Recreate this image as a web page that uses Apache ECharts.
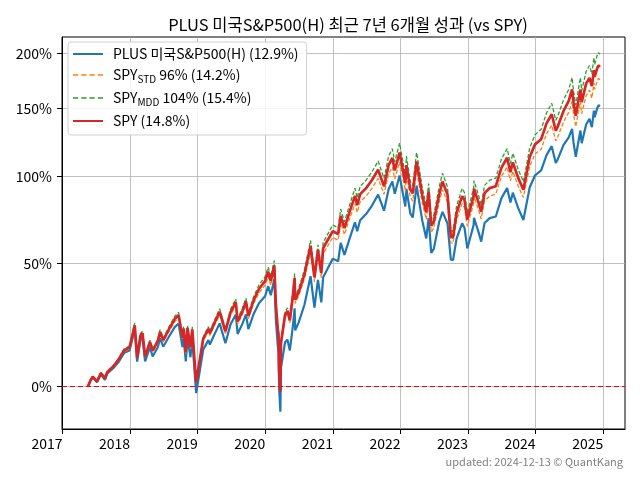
<!DOCTYPE html>
<html><head><meta charset="utf-8">
<script src="https://cdn.jsdelivr.net/npm/echarts@6/dist/echarts.min.js"></script>
<style>html,body{margin:0;padding:0;background:#fff}#c{width:640px;height:480px}</style>
</head><body><div id="c"></div>
<script>
const dates = [
'2017-05-18','2017-05-31','2017-06-13','2017-07-06','2017-07-27','2017-08-18','2017-08-31','2017-09-29','2017-10-31','2017-11-30','2017-12-29',
'2018-01-26','2018-02-08','2018-02-26','2018-03-09','2018-03-23','2018-04-18','2018-05-03','2018-05-31','2018-06-12','2018-06-29','2018-07-31','2018-08-31','2018-09-20','2018-10-11','2018-10-17','2018-10-29','2018-11-07','2018-11-23','2018-12-03','2018-12-24',
'2019-01-31','2019-02-28','2019-03-08','2019-03-29','2019-04-30','2019-05-31','2019-06-28','2019-07-26','2019-08-05','2019-08-30','2019-09-19','2019-10-02','2019-10-31','2019-11-29','2019-12-31',
'2020-01-17','2020-01-31','2020-02-19','2020-02-28','2020-03-09','2020-03-13','2020-03-16','2020-03-23','2020-03-26','2020-04-17','2020-04-30','2020-05-13','2020-05-29','2020-06-08','2020-06-11','2020-06-30','2020-07-31','2020-09-02','2020-09-23','2020-10-12','2020-10-30','2020-11-09','2020-11-30','2020-12-31',
'2021-01-29','2021-02-12','2021-03-04','2021-03-31','2021-04-30','2021-05-12','2021-05-28','2021-06-30','2021-07-30','2021-09-02','2021-10-04','2021-10-29','2021-11-18','2021-12-01','2021-12-27',
'2022-01-03','2022-01-27','2022-02-02','2022-02-23','2022-03-08','2022-03-29','2022-04-29','2022-05-20','2022-06-02','2022-06-16','2022-06-30','2022-07-29','2022-08-16','2022-09-12','2022-09-30','2022-10-12','2022-10-31','2022-11-30','2022-12-13','2022-12-28',
'2023-01-31','2023-02-02','2023-02-28','2023-03-13','2023-03-31','2023-04-28','2023-05-31','2023-06-30','2023-07-31','2023-08-18','2023-08-31','2023-09-29','2023-10-27','2023-11-30','2023-12-29',
'2024-01-31','2024-02-29','2024-03-28','2024-04-19','2024-04-30','2024-05-31','2024-06-28','2024-07-16','2024-07-24','2024-08-05','2024-08-30','2024-09-06','2024-09-30','2024-10-18','2024-10-31','2024-11-11','2024-11-15','2024-11-29','2024-12-06','2024-12-13'
];
// cumulative returns, %
const plus = [
0,1.9,3.2,1.5,4.2,2.3,4.5,6.1,8.5,11.8,12.7,
20.9,8.6,16.8,17.5,8.7,13.8,10.5,14.0,17.3,14.1,18.1,21.8,23.1,14.0,17.5,8.7,17.6,10.2,16.8,-2.1,
13.0,16.6,14.9,18.3,23.2,15.4,22.9,26.8,19.0,22.9,26.9,20.9,27.2,31.8,34.7,
39.3,35.2,42.5,24.2,14.4,12.4,-0.4,-7.9,6.4,15.7,16.8,12.7,21.8,29.5,20.4,23.6,31.0,43.9,29.8,42.2,32.0,43.4,47.0,52.5,
51.2,60.6,54.4,62.6,71.9,66.9,73.1,76.8,81.5,88.3,78.6,91.8,96.6,88.8,100.5,
100.9,81.1,91.9,77.0,74.6,93.9,72.7,63.0,74.3,55.4,57.5,72.2,77.9,71.2,52.0,51.8,62.9,71.3,68.7,57.7,
70.3,74.5,66.0,61.3,71.5,74.3,75.2,86.0,92.4,83.5,89.5,80.1,73.2,92.8,100.7,
103.9,114.5,120.9,108.9,111.6,121.8,127.4,133.8,123.4,113.3,132.6,123.1,137.2,141.7,135.2,148.4,143.0,150.4,152.9,151.7
];
const spyStd = [
0,1.9,3.3,1.7,4.4,2.7,4.8,6.4,9.0,12.3,13.2,
21.4,9.6,17.6,18.5,10.0,15.2,12.1,15.6,18.9,15.9,20.1,24.0,25.4,16.7,20.2,11.6,20.5,13.3,19.9,1.3,
16.4,20.1,18.4,21.8,26.7,19.1,26.6,30.5,22.9,26.7,30.9,25.0,31.6,36.3,39.6,
43.9,39.7,46.7,29.2,20.0,18.0,5.6,-1.5,14.6,25.4,27.1,23.4,33.0,41.1,31.6,34.9,42.7,56.1,41.3,54.0,43.2,55.0,58.4,63.5,
62.1,71.6,65.1,73.6,82.8,77.6,83.9,87.5,92.1,98.6,88.5,101.6,106.2,98.2,109.7,
109.9,90.4,101.5,86.7,84.3,103.9,82.9,73.6,85.5,66.4,68.6,83.7,91.4,83.6,60.6,60.4,73.3,82.8,80.4,69.6,
82.8,87.1,78.5,73.8,84.4,87.4,88.6,99.8,106.3,97.1,103.3,93.6,86.5,106.7,115.2,
118.7,130.0,136.7,124.8,127.9,139.3,146.9,156.1,145.7,135.5,156.0,145.9,160.8,165.6,158.7,172.1,166.4,173.9,176.3,174.8
];
const spyMdd = [
0,2.1,3.5,1.9,4.8,2.9,5.2,7.0,9.8,13.3,14.4,
23.4,10.4,19.2,20.1,10.8,16.6,13.1,17.0,20.7,17.3,21.9,26.2,27.8,18.3,22.0,12.6,22.3,14.5,21.7,1.5,
17.8,21.9,20.0,23.8,29.3,20.9,29.2,33.5,25.1,29.3,33.9,27.4,34.6,39.9,43.6,
48.3,43.7,51.5,32.0,21.8,19.6,6.0,-1.7,16.0,27.8,29.7,25.6,36.2,45.2,34.6,38.3,47.0,62.0,45.5,59.6,47.6,60.8,64.6,70.4,
68.8,79.5,72.2,81.7,92.3,86.3,93.5,97.6,102.8,110.3,98.7,113.8,119.0,109.8,123.1,
123.3,100.9,113.7,96.6,94.0,116.3,92.4,81.7,95.3,73.6,76.1,93.2,102.0,93.1,67.1,66.9,81.4,92.2,89.5,77.3,
92.2,97.2,87.4,82.0,94.1,97.5,98.8,111.6,119.1,108.6,115.7,104.6,96.4,119.6,129.4,
133.5,146.5,154.4,140.5,144.0,157.3,166.2,176.9,164.8,153.0,176.8,165.1,182.5,188.1,180.1,195.8,189.1,198.0,200.7,198.9
];
const spy = [
0,2.0,3.4,1.8,4.6,2.8,5.0,6.7,9.4,12.8,13.8,
22.4,10.0,18.4,19.3,10.4,15.9,12.6,16.3,19.8,16.6,21.0,25.1,26.6,17.5,21.1,12.1,21.4,13.9,20.8,1.4,
17.1,21.0,19.2,22.8,28.0,20.0,27.9,32.0,24.0,28.0,32.4,26.2,33.1,38.1,41.6,
46.1,41.7,49.1,30.6,20.9,18.8,5.8,-1.6,15.3,26.6,28.4,24.5,34.6,43.1,33.1,36.6,44.8,59.0,43.4,56.8,45.4,57.9,61.5,66.9,
65.4,75.5,68.6,77.6,87.5,81.9,88.6,92.5,97.4,104.4,93.5,107.6,112.5,103.9,116.3,
116.5,95.6,107.5,91.6,89.1,110.0,87.6,77.6,90.3,70.0,72.3,88.4,96.6,88.3,63.8,63.6,77.3,87.4,84.9,73.4,
87.4,92.1,82.9,77.9,89.2,92.4,93.6,105.6,112.6,102.8,109.4,99.0,91.4,113.1,122.2,
126.0,138.1,145.4,132.5,135.8,148.1,156.4,166.3,155.1,144.1,166.2,155.3,171.4,176.6,169.2,183.7,177.5,185.7,188.2,186.6
];
const yTickPct = [0, 50, 100, 150, 200];
const xTickYears = [2017, 2018, 2019, 2020, 2021, 2022, 2023, 2024, 2025];
const seriesNames = ['PLUS 미국S&P500(H) (12.9%)', 'SPY_STD 96% (14.2%)', 'SPY_MDD 104% (15.4%)', 'SPY (14.8%)'];
const legendRich = {
  'PLUS 미국S&P500(H) (12.9%)': '{t|PLUS 미국S&P500(H) (12.9%)}',
  'SPY_STD 96% (14.2%)': '{t|SPY}{s|STD}{t| 96% (14.2%)}',
  'SPY_MDD 104% (15.4%)': '{t|SPY}{s|MDD}{t| 104% (15.4%)}',
  'SPY (14.8%)': '{t|SPY (14.8%)}'
};

const FONT = '"Noto Sans CJK KR", "Noto Sans", sans-serif';
const ts = d => Date.parse(d + 'T00:00:00Z');
const toPts = arr => dates.map((d, i) => [ts(d), 1 + arr[i] / 100]);
const yVals = yTickPct.map(p => 1 + p / 100);
const xVals = xTickYears.map(y => Date.UTC(y, 0, 1));

const SOLID_ICON = 'path://M0,0h30v2h-30z';
const DASH_ICON = 'path://M0,0h5v1.4h-5zM8,0h5v1.4h-5zM16,0h5v1.4h-5zM24,0h5v1.4h-5z';

const chart = echarts.init(document.getElementById('c'), null, {renderer: 'canvas', width: 640, height: 480});
chart.setOption({
  animation: false,
  backgroundColor: '#fff',
  title: {
    text: 'PLUS 미국S&P500(H) 최근 7년 6개월 성과 (vs SPY)',
    left: 343, top: 11, textAlign: 'center',
    textStyle: {fontFamily: FONT, fontSize: 16.5, fontWeight: 'normal', color: '#000'}
  },
  grid: {left: 62, right: 15, top: 37, bottom: 51, show: true, borderColor: '#000', borderWidth: 1, containLabel: false},
  legend: {
    orient: 'vertical', left: 68, top: 42,
    itemWidth: 30, itemHeight: 14, itemGap: 7,
    padding: [5, 8, 7, 5],
    backgroundColor: 'rgba(255,255,255,0.85)', borderColor: '#d0d0d0', borderWidth: 1, borderRadius: 3,
    data: [
      {name: seriesNames[0], icon: SOLID_ICON},
      {name: seriesNames[1], icon: DASH_ICON},
      {name: seriesNames[2], icon: DASH_ICON},
      {name: seriesNames[3], icon: SOLID_ICON}
    ],
    formatter: name => legendRich[name],
    textStyle: {
      fontFamily: FONT, fontSize: 14, color: '#000', padding: [0, 0, 0, 5],
      rich: {
        t: {fontFamily: FONT, fontSize: 14, color: '#000', lineHeight: 18},
        s: {fontFamily: FONT, fontSize: 10, color: '#000', lineHeight: 12, verticalAlign: 'bottom'}
      }
    }
  },
  xAxis: {
    type: 'value',
    min: Date.UTC(2016, 11, 29),
    max: Date.UTC(2025, 3, 28),
    axisLine: {show: true, onZero: false, lineStyle: {color: '#000', width: 1}},
    axisTick: {show: true, length: 5, lineStyle: {color: '#000'}, customValues: xVals},
    axisLabel: {customValues: xVals, formatter: v => String(new Date(v).getUTCFullYear()), align: 'right', margin: 8,
      fontFamily: FONT, fontSize: 14, color: '#000'},
    splitLine: {show: true, lineStyle: {color: '#b0b0b0', width: 0.8}},
    minorTick: {show: false}, minorSplitLine: {show: false}
  },
  yAxis: {
    type: 'log', logBase: 10,
    min: 0.870, max: 3.165,
    axisLine: {show: true, lineStyle: {color: '#000', width: 1}},
    axisTick: {show: true, length: 5, lineStyle: {color: '#000'}, customValues: yVals},
    axisLabel: {customValues: yVals, formatter: v => Math.round((v - 1) * 100) + '%', margin: 10,
      fontFamily: FONT, fontSize: 14, color: '#000'},
    splitLine: {show: true, lineStyle: {color: '#b0b0b0', width: 0.8}},
    minorTick: {show: false}, minorSplitLine: {show: false}
  },
  series: [
    {name: seriesNames[0], type: 'line', symbol: 'none', data: toPts(plus),
     lineStyle: {color: '#1f77b4', width: 2.2}, itemStyle: {color: '#1f77b4'}},
    {name: seriesNames[1], type: 'line', symbol: 'none', data: toPts(spyStd),
     lineStyle: {color: '#ff7f0e', width: 1.3, type: [4, 2]}, itemStyle: {color: '#ff7f0e'}},
    {name: seriesNames[2], type: 'line', symbol: 'none', data: toPts(spyMdd),
     lineStyle: {color: '#2ca02c', width: 1.3, type: [4, 2]}, itemStyle: {color: '#2ca02c'}},
    {name: seriesNames[3], type: 'line', symbol: 'none', data: toPts(spy),
     lineStyle: {color: '#d62728', width: 2.7}, itemStyle: {color: '#d62728'},
     markLine: {silent: true, symbol: 'none', label: {show: false},
       lineStyle: {color: '#ff0000', type: [5, 3], width: 1.2},
       data: [{yAxis: 1}]}}
  ],
  graphic: [{
    type: 'text', right: 17, top: 456,
    style: {text: 'updated: 2024-12-13 © QuantKang', fill: '#808080', font: '11px "Noto Sans CJK KR", "Noto Sans", sans-serif'}
  }]
});
</script></body></html>
